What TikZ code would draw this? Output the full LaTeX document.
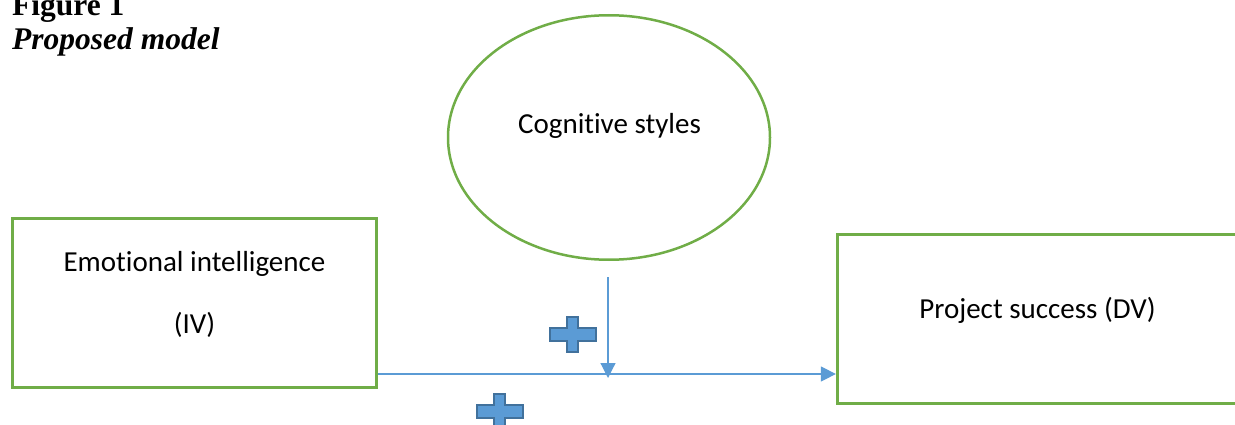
\documentclass[tikz,border=0pt]{standalone}
\usepackage{fontspec}
\setmainfont{Liberation Serif}
\newfontfamily\bodyfont{Carlito}[Ligatures=NoCommon]
\usetikzlibrary{arrows.meta,shapes.geometric}

\definecolor{leafgreen}{HTML}{70AD47}
\definecolor{skyblue}{HTML}{5B9BD5}
\definecolor{deepblue}{HTML}{41719C}

\tikzset{
  box/.style={rectangle, draw=leafgreen, line width=2.7pt, inner sep=0pt},
  oval/.style={ellipse, draw=leafgreen, line width=2.5pt, inner sep=0pt,
    minimum width=322pt, minimum height=244.5pt},
  lbl/.style={font=\bodyfont\fontsize{29}{34}\selectfont, inner sep=0pt, anchor=base},
  heading/.style={inner sep=0pt, anchor=base west},
  flow/.style={draw=skyblue, line width=1.2pt, -{Triangle[length=15pt,width=15pt]}},
  plussign/.pic={
    \filldraw[fill=skyblue, draw=deepblue, line width=2pt]
      (-5.5,-17.5) -- (5.5,-17.5) -- (5.5,-6.5) -- (23,-6.5) -- (23,6.5)
      -- (5.5,6.5) -- (5.5,17.5) -- (-5.5,17.5) -- (-5.5,6.5) -- (-23,6.5)
      -- (-23,-6.5) -- (-5.5,-6.5) -- cycle;
  }
}

\begin{document}
\begin{tikzpicture}[x=1pt, y=-1pt]
  \useasboundingbox (0,0) rectangle (1235,425);

  % caption
  \node[heading, font=\bfseries\fontsize{31.5}{34}\selectfont] (fig) at (12,16) {Figure 1};
  \node[heading, font=\bfseries\itshape\fontsize{31.5}{34}\selectfont] (cap) at (12,50) {Proposed model};

  % moderator
  \node[oval] (cs) at (609,137.5) {};
  \node[lbl] (cstext) at (609.5,134) {Cognitive styles};

  % independent variable
  \node[box, minimum width=364.5pt, minimum height=169.5pt] (ei) at (194.5,303) {};
  \node[lbl] (eitext1) at (194.5,271) {Emotional intelligence};
  \node[lbl] (eitext2) at (194.5,333) {(IV)};

  % dependent variable
  \node[box, minimum width=402.75pt, minimum height=169.5pt] (ps) at (1038.6,319) {};
  \node[lbl] (pstext) at (1037.5,318) {Project success (DV)};

  % direct and moderating paths
  \coordinate (h) at (ei.east |- 0,374);
  \draw[flow] (h) -- (h -| ps.west);
  \coordinate (v) at (608,277);
  \draw[flow] (v) -- (v |- 0,378);

  % positive signs
  \pic at (572.5,334) {plussign};
  \pic at (499.5,411.5) {plussign};
\end{tikzpicture}
\end{document}
